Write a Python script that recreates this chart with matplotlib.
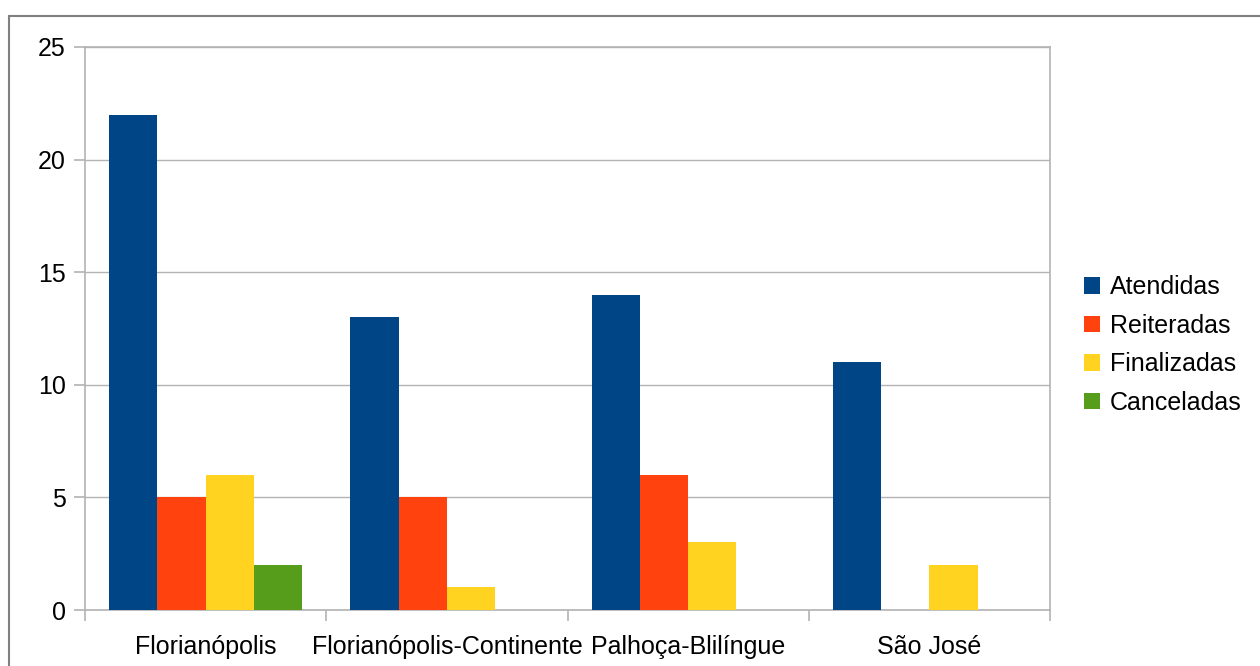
import numpy as np
import matplotlib.pyplot as plt
from matplotlib.patches import Rectangle

plt.rcParams['font.family'] = ['Liberation Sans', 'DejaVu Sans']

cidades = ['Florianópolis', 'Florianópolis-Continente', 'Palhoça-Blilíngue', 'São José']
series = ['Atendidas', 'Reiteradas', 'Finalizadas', 'Canceladas']
atendidas = [22, 13, 14, 11]
reiteradas = [5, 5, 6, 0]
finalizadas = [6, 1, 3, 2]
canceladas = [2, 0, 0, 0]
cores = ['#004586', '#ff420e', '#ffd320', '#579d1c']

grade = '#b3b3b3'

fig = plt.figure(figsize=(12.6, 6.66), dpi=100)
ax = fig.add_axes([85 / 1260, 1 - 610 / 666, 965 / 1260, 563 / 666])

# moldura do gráfico (sai pelas bordas direita e inferior)
fig.patches.append(Rectangle((9 / 1260, -0.1), 1.2, 1 - 16 / 666 + 0.1,
                             transform=fig.transFigure, fill=False,
                             edgecolor='#808080', linewidth=1.5))

x = np.arange(len(cidades))
largura = 0.2
valores = [atendidas, reiteradas, finalizadas, canceladas]
for i, (nome, v, cor) in enumerate(zip(series, valores, cores)):
    ax.bar(x + (i - 1.5) * largura, v, largura, color=cor, label=nome, zorder=3)

ax.set_xlim(-0.5, len(cidades) - 0.5)
ax.set_ylim(0, 25)
ax.set_yticks([0, 5, 10, 15, 20, 25])
ax.yaxis.grid(True, color=grade, linewidth=1, zorder=0)

ax.set_xticks(x)
ax.set_xticklabels(cidades)
ax.set_xticks(np.arange(-0.5, len(cidades)), minor=True)
ax.tick_params(axis='x', which='major', length=0, pad=18, labelsize=18)
ax.tick_params(axis='x', which='minor', length=8, color=grade, width=1.2)
ax.tick_params(axis='y', length=8, color=grade, width=1.2, pad=6, labelsize=18)

for s in ax.spines.values():
    s.set_color(grade)
    s.set_linewidth(1.2)

ax.legend(loc='center left', bbox_to_anchor=(1061 / 1260, 1 - 345 / 666),
          bbox_transform=fig.transFigure, frameon=False, fontsize=18,
          handlelength=0.65, handleheight=0.65, handletextpad=0.4,
          labelspacing=0.58)

fig.savefig('out.png', dpi=100)
